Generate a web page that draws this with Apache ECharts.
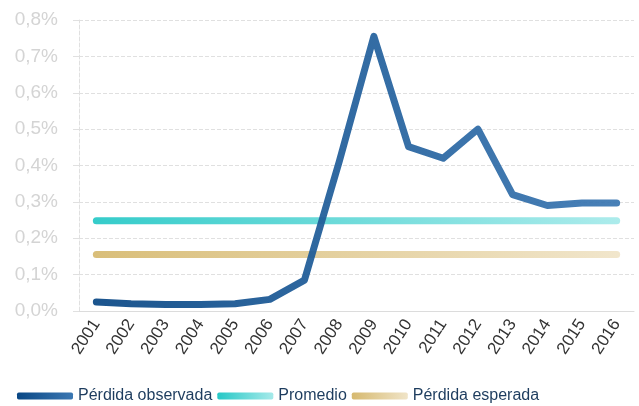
<!DOCTYPE html>
<html lang="es">
<head>
    <meta charset="utf-8" />
    <title></title>
    <script src="https://cdn.jsdelivr.net/npm/echarts@6/dist/echarts.min.js"></script>
</head>
<body style="margin:0">
    <div id="main" style="width:639px;height:406px"></div>
    <script>
        // datos del grafico
        var years = ['2001', '2002', '2003', '2004', '2005', '2006', '2007', '2008',
            '2009', '2010', '2011', '2012', '2013', '2014', '2015', '2016'];
        var perdidaObservada = [0.025, 0.02, 0.018, 0.018, 0.02, 0.032, 0.085, 0.41,
            0.755, 0.452, 0.42, 0.5, 0.32, 0.29, 0.297, 0.297];
        var promedio = [0.248, 0.248, 0.248, 0.248, 0.248, 0.248, 0.248, 0.248,
            0.248, 0.248, 0.248, 0.248, 0.248, 0.248, 0.248, 0.248];
        var perdidaEsperada = [0.155, 0.155, 0.155, 0.155, 0.155, 0.155, 0.155, 0.155,
            0.155, 0.155, 0.155, 0.155, 0.155, 0.155, 0.155, 0.155];

        function grad(a, b) {
            return new echarts.graphic.LinearGradient(0, 0, 1, 0, [
                { offset: 0, color: a },
                { offset: 1, color: b }
            ]);
        }

        var myChart = echarts.init(document.getElementById('main'));

        function serie(name, data, c1, c2) {
            return {
                name: name,
                type: 'line',
                data: data,
                symbol: 'none',
                animation: false,
                itemStyle: { color: grad(c1, c2) },
                lineStyle: { width: 7, cap: 'round', join: 'round', color: grad(c1, c2), opacity: 0.93 }
            };
        }

        var option = {
            animation: false,
            grid: { left: 79, right: 5, top: 20, bottom: 95 },
            legend: {
                left: 12,
                bottom: -3,
                itemWidth: 56,
                itemHeight: 7,
                itemGap: 5,
                icon: 'roundRect',
                textStyle: { color: '#1d3c5e', fontSize: 16, fontFamily: 'Liberation Sans' },
                data: ['Pérdida observada', 'Promedio', 'Pérdida esperada']
            },
            xAxis: {
                type: 'category',
                data: years,
                boundaryGap: true,
                axisLine: { lineStyle: { color: '#dcdcdc', width: 1 } },
                axisTick: { length: 5, lineStyle: { color: '#dcdcdc' } },
                axisLabel: {
                    rotate: 57,
                    color: '#333333',
                    fontSize: 17,
                    fontFamily: 'Liberation Sans',
                    margin: 10
                }
            },
            yAxis: {
                type: 'value',
                min: 0,
                max: 0.8,
                interval: 0.1,
                axisLine: { show: true, lineStyle: { color: '#e0e0e0', type: 'dashed' } },
                axisTick: { show: true, length: 6, lineStyle: { color: '#e0e0e0' } },
                splitLine: { lineStyle: { color: '#e0e0e0', type: 'dashed' } },
                axisLabel: {
                    color: '#d4d4d4',
                    fontSize: 19,
                    fontFamily: 'Liberation Sans',
                    margin: 21,
                    formatter: function (v) { return v.toFixed(1).replace('.', ',') + '%'; }
                }
            },
            series: [
                serie('Pérdida esperada', perdidaEsperada, '#d6b96f', '#f0e4c8'),
                serie('Promedio', promedio, '#26c8c6', '#a6eaea'),
                serie('Pérdida observada', perdidaObservada, '#0a4885', '#3b77b2')
            ]
        };
        myChart.setOption(option);
    </script>
</body>
</html>
